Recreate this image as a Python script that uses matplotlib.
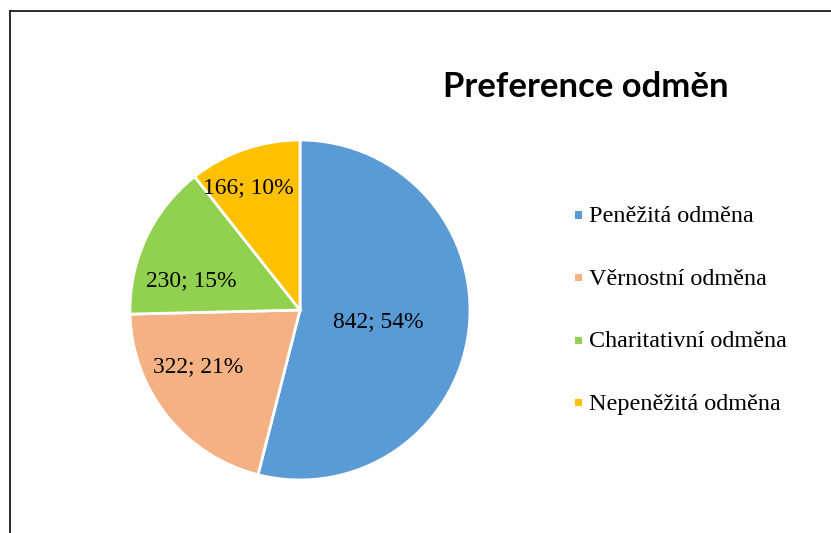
import matplotlib
matplotlib.use("Agg")
import matplotlib.pyplot as plt
from matplotlib.patches import Rectangle
from matplotlib.lines import Line2D

# ---- data ----
categories = ["Peněžitá odměna", "Věrnostní odměna", "Charitativní odměna", "Nepeněžitá odměna"]
values = [842, 322, 230, 166]
percent_labels = ["54%", "21%", "15%", "10%"]
colors = ["#5B9BD5", "#F4B183", "#92D050", "#FFC000"]
title = "Preference odměn"

# ---- layout (pixels) ----
W, H, DPI = 831, 533, 100
cx, cy, R = 300, 310, 170
# label baseline anchors in pie units (radius = 1)
label_pos = [(0.459, -0.098), (-0.60, -0.363), (-0.641, 0.143), (-0.306, 0.686)]
legend_rows = [215, 277.5, 340, 402.5]

fig = plt.figure(figsize=(W / DPI, H / DPI), dpi=DPI)
fig.patch.set_facecolor("white")

ax = fig.add_axes([(cx - R) / W, (H - cy - R) / H, 2 * R / W, 2 * R / H])
ax.pie(values, colors=colors, startangle=90, counterclock=False, radius=1,
       wedgeprops=dict(edgecolor="white", linewidth=2.0))
ax.set_xlim(-1, 1)
ax.set_ylim(-1, 1)
ax.set_aspect("equal")
ax.axis("off")

serif = ["Liberation Serif", "DejaVu Serif"]
for (x, y), v, p in zip(label_pos, values, percent_labels):
    ax.text(x, y, f"{v}; {p}", ha="center", va="baseline", fontsize=16.9,
            family=serif, color="black")

# title
fig.text(586 / W, 1 - 97.5 / H, title, ha="center", va="baseline",
         fontsize=24.9, fontweight="bold", family=["Lato", "DejaVu Sans"])

# legend (manual)
for yrow, lab, c in zip(legend_rows, categories, colors):
    s = 7
    fig.patches.append(Rectangle(((578.5 - s / 2) / W, 1 - (yrow + s / 2) / H), s / W, s / H,
                                 transform=fig.transFigure, facecolor=c, edgecolor="none"))
    fig.text(589 / W, 1 - (yrow + 7.3) / H, lab, ha="left", va="baseline",
             fontsize=17.4, family=serif, color="black")

# chart frame (partially visible)
fx, fy = 10, 10.5
fig.add_artist(Line2D([fx / W, fx / W], [1 - fy / H, -0.01], transform=fig.transFigure,
                      color="#1a1a1a", linewidth=1.3))
fig.add_artist(Line2D([fx / W, 1.01], [1 - fy / H, 1 - fy / H], transform=fig.transFigure,
                      color="#1a1a1a", linewidth=1.3))

fig.savefig("out.png", dpi=DPI, facecolor="white")
